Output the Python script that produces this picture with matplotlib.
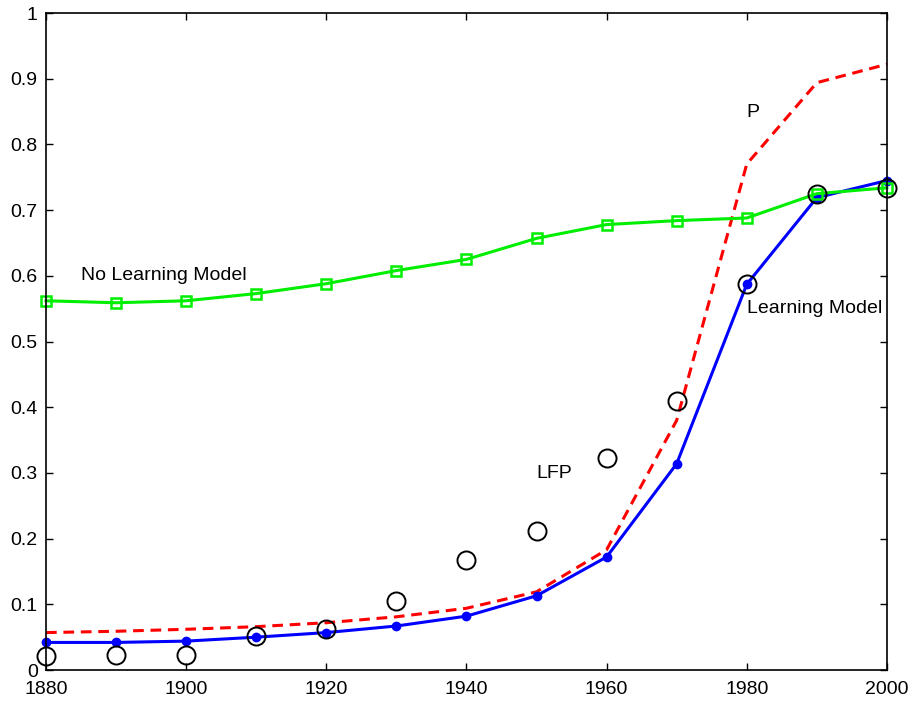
import matplotlib
matplotlib.use('Agg')
import matplotlib.pyplot as plt
import numpy as np

plt.rcParams['font.family'] = ['Liberation Sans', 'DejaVu Sans']

years = [1880, 1890, 1900, 1910, 1920, 1930, 1940, 1950, 1960, 1970, 1980, 1990, 2000]

# model predictions and data
no_learning = [0.562, 0.559, 0.562, 0.573, 0.588, 0.608, 0.625, 0.657, 0.678, 0.684, 0.688, 0.725, 0.734]
learning = [0.042, 0.042, 0.044, 0.050, 0.057, 0.067, 0.082, 0.113, 0.172, 0.314, 0.587, 0.719, 0.745]
p_belief = [0.057, 0.059, 0.062, 0.066, 0.072, 0.081, 0.094, 0.119, 0.183, 0.380, 0.770, 0.894, 0.922]
lfp = [0.021, 0.023, 0.023, 0.052, 0.062, 0.105, 0.167, 0.211, 0.323, 0.410, 0.587, 0.725, 0.734]

fig = plt.figure(figsize=(9.13, 7.03), dpi=100)
ax = fig.add_axes([0.0504, 0.0469, 0.921, 0.9346])

ax.plot(years, p_belief, color='red', lw=2.2, dashes=(3.5, 2.2))
ax.plot(years, learning, color='blue', lw=2.2, marker='o', markersize=6, clip_on=False)
ax.plot(years, no_learning, color='#00ee00', lw=2.2, marker='s', markersize=7.5,
        markerfacecolor='none', markeredgewidth=1.8, clip_on=False)
ax.plot(years, lfp, linestyle='none', marker='o', markersize=13,
        markerfacecolor='none', markeredgecolor='black', markeredgewidth=1.4, clip_on=False)

ax.text(1980, 0.848, 'P', fontsize=14, va='center')
ax.text(1980, 0.550, 'Learning Model', fontsize=14, va='center')
ax.text(1950, 0.299, 'LFP', fontsize=14, va='center')
ax.text(1885, 0.600, 'No Learning Model', fontsize=14, va='center')

ax.set_xlim(1880, 2000)
ax.set_ylim(0, 1)
ax.set_xticks(range(1880, 2001, 20))
ax.set_yticks(np.arange(0, 1.01, 0.1))
ax.set_yticklabels(['0', '0.1', '0.2', '0.3', '0.4', '0.5', '0.6', '0.7', '0.8', '0.9', '1'])
ax.tick_params(direction='in', top=True, right=True, labelsize=14, length=5, width=1)
ax.tick_params(axis='x', pad=8)
ax.tick_params(axis='y', pad=6)
for s in ax.spines.values():
    s.set_linewidth(1.2)

fig.savefig('out.png', dpi=100)
